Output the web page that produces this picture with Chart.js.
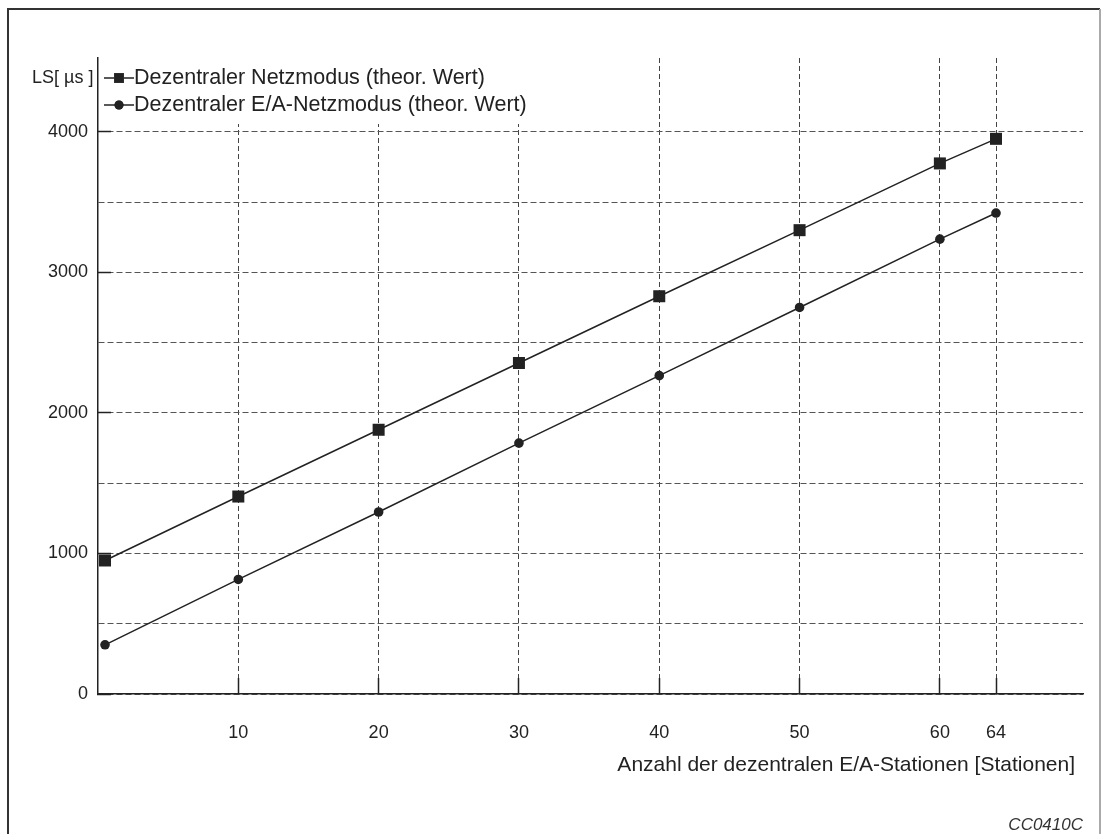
<!DOCTYPE html>
<html>
<head>
<meta charset="utf-8">
<title>LS – dezentrale Stationen</title>
<script src="https://cdn.jsdelivr.net/npm/chart.js@4.4.1/dist/chart.umd.min.js"></script>
<style>
  html, body { margin: 0; padding: 0; background: #fff; }
  #wrap { position: relative; width: 1105px; height: 834px; }
</style>
</head>
<body>
<div id="wrap"><canvas id="lsPlot" width="1105" height="834"></canvas></div>
<script>
// Anzahl der Stationen und Linkscan-Zeiten (µs)
const stations = [0.5, 10, 20, 30, 40, 50, 60, 64];
const netzmodus = [950, 1405, 1880, 2355, 2830, 3300, 3775, 3950];
const eaNetzmodus = [350, 815, 1295, 1785, 2265, 2750, 3236, 3422];

const xTickValues = [10, 20, 30, 40, 50, 60, 64];
const yTickValues = [0, 500, 1000, 1500, 2000, 2500, 3000, 3500, 4000];

const seriesLabels = [
    "Dezentraler Netzmodus (theor. Wert)",
    "Dezentraler E/A-Netzmodus (theor. Wert)"
];

const FONT = "'Liberation Sans', Arial, sans-serif";
const INK = "#222";

function toPoints(values) {
    return stations.map((s, i) => ({ x: s, y: values[i] }));
}

// frame, axis caption, legend and figure code
const decorations = {
    id: "decorations",
    afterDraw(chart) {
        const ctx = chart.ctx;
        const area = chart.chartArea;
        ctx.save();

        // page frame (open at the bottom)
        ctx.lineWidth = 2;
        ctx.strokeStyle = "#333";
        ctx.beginPath();
        ctx.moveTo(8, 834);
        ctx.lineTo(8, 9);
        ctx.lineTo(1100, 9);
        ctx.stroke();
        ctx.strokeStyle = "#aaa";
        ctx.beginPath();
        ctx.moveTo(1100, 9);
        ctx.lineTo(1100, 834);
        ctx.stroke();

        ctx.fillStyle = INK;
        ctx.textBaseline = "middle";

        // y unit
        ctx.font = "18px " + FONT;
        ctx.textAlign = "left";
        ctx.fillText("LS[ µs ]", 32, 78);

        // legend in the top-left corner of the plot, on a blank box
        ctx.fillStyle = "#fff";
        ctx.fillRect(area.left + 1, area.top, 440, 66);

        const rows = [78, 105];
        chart.data.datasets.forEach((ds, i) => {
            const y = rows[i];
            ctx.strokeStyle = ds.borderColor;
            ctx.lineWidth = 1.5;
            ctx.beginPath();
            ctx.moveTo(104, y);
            ctx.lineTo(134, y);
            ctx.stroke();
            Chart.helpers.drawPoint(ctx, {
                pointStyle: ds.pointStyle,
                radius: ds.pointStyle === "rect" ? 7 : 4.5,
                borderWidth: 0,
                rotation: 0
            }, 119, y);
            ctx.fillStyle = INK;
            ctx.fill();
            ctx.font = "21.5px " + FONT;
            ctx.textAlign = "left";
            ctx.fillText(seriesLabels[i], 134, y);
        });

        // x axis title
        ctx.font = "21px " + FONT;
        ctx.textAlign = "right";
        ctx.fillText("Anzahl der dezentralen E/A-Stationen [Stationen]", 1075, 765);

        // figure code
        ctx.font = "italic 17px " + FONT;
        ctx.fillStyle = "#333";
        ctx.fillText("CC0410C", 1083, 825);

        ctx.restore();
    }
};

const chart = new Chart(document.getElementById("lsPlot"), {
    type: "line",
    data: {
        datasets: [{
            label: seriesLabels[0],
            data: toPoints(netzmodus),
            borderColor: INK,
            backgroundColor: INK,
            borderWidth: 1.5,
            pointStyle: "rect",
            pointRadius: 8.5,
            pointBorderWidth: 0,
            tension: 0,
            clip: false
        }, {
            label: seriesLabels[1],
            data: toPoints(eaNetzmodus),
            borderColor: INK,
            backgroundColor: INK,
            borderWidth: 1.5,
            pointStyle: "circle",
            pointRadius: 4.8,
            pointBorderWidth: 0,
            tension: 0,
            clip: false
        }]
    },
    options: {
        responsive: false,
        animation: false,
        devicePixelRatio: 1,
        layout: { padding: { left: 0, top: 58, right: 22, bottom: 0 } },
        plugins: {
            legend: { display: false },
            tooltip: { enabled: false }
        },
        scales: {
            x: {
                type: "linear",
                min: 0,
                max: 70.2,
                afterFit(scale) { scale.height = 140; },
                afterBuildTicks(scale) {
                    scale.ticks = xTickValues.map(v => ({ value: v }));
                },
                border: { color: INK, width: 1.5, dash: [5, 3] },
                grid: {
                    color: "#444",
                    lineWidth: 1,
                    drawTicks: true,
                    tickLength: -16,
                    tickColor: INK,
                    tickWidth: 1.5,
                    tickBorderDash: []
                },
                ticks: {
                    autoSkip: false,
                    maxRotation: 0,
                    padding: 44,
                    color: INK,
                    font: { family: FONT, size: 18 }
                }
            },
            y: {
                min: 0,
                max: 4525,
                afterFit(scale) { scale.width = 98; },
                afterBuildTicks(scale) {
                    scale.ticks = yTickValues.map(v => ({ value: v }));
                },
                border: { color: INK, width: 1.5, dash: [6, 3] },
                grid: {
                    color: "#555",
                    lineWidth: 1,
                    drawTicks: true,
                    tickLength: -13,
                    tickColor: c => (c.tick && c.tick.value % 1000 === 0) ? INK : "rgba(0,0,0,0)",
                    tickWidth: 1.5,
                    tickBorderDash: []
                },
                ticks: {
                    autoSkip: false,
                    padding: 23,
                    color: INK,
                    font: { family: FONT, size: 18 },
                    callback: v => (v % 1000 === 0 ? String(v) : "")
                }
            }
        }
    },
    plugins: [decorations]
});
</script>
</body>
</html>
